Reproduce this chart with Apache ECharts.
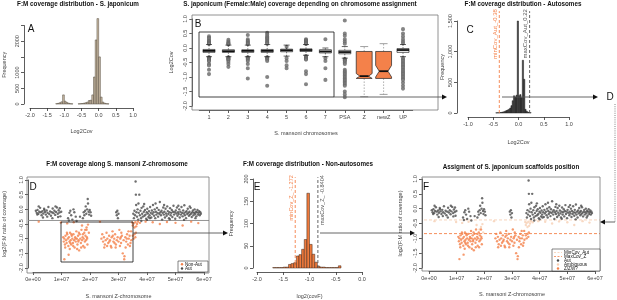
<!DOCTYPE html>
<html><head><meta charset="utf-8">
<script src="https://cdn.jsdelivr.net/npm/echarts@6/dist/echarts.min.js"></script>
<style>html,body{margin:0;padding:0;background:#fff}#c{width:617px;height:300px}</style>
</head><body><div id="c"></div>
<script>
// ---------- DATA ----------
// Panel A histogram (S. japonicum all scaffolds), bin width 0.05
const histA_starts = [-1.25,-1.2,-1.15,-1.1,-1.05,-1.0,-0.95,-0.9,-0.85,-0.8,-0.6,-0.55,-0.5,-0.45,-0.4,-0.35,-0.3,-0.25,-0.2,-0.15,-0.1,-0.05,0.0,0.05,0.1,0.15,0.2,0.25];
const histA_counts = [10,20,40,70,290,90,50,25,10,5,5,10,15,25,40,60,110,120,290,860,2040,2720,1500,220,60,25,10,5];
const histA_width = 0.05;

// Panel B boxplots
const chrCats = ['1','2','3','4','5','6','7','PSA','Z','newZ','UP'];
const chrMin = [-0.30,-0.30,-0.30,-0.30,-0.28,-0.25,-0.30,-0.35,-1.68,-1.60,-0.30];
const chrQ1  = [-0.15,-0.15,-0.15,-0.15,-0.13,-0.12,-0.17,-0.20,-1.05,-1.05,-0.15];
const chrMed = [-0.10,-0.11,-0.10,-0.10,-0.08,-0.07,-0.12,-0.14,-0.97,-0.80,-0.07];
const chrQ3  = [-0.05,-0.06,-0.06,-0.05,-0.04,-0.03,-0.06,-0.08,-0.12,-0.12,-0.02];
const chrMax = [0.12,0.10,0.10,0.12,0.10,0.12,0.00,0.05,0.05,0.15,0.12];
const chrNotchLo = [null,null,null,null,null,null,null,null,-1.05,-1.00,null];
const chrNotchHi = [null,null,null,null,null,null,null,null,-0.88,-0.60,null];
const chrOutliers = [
  [0.40,0.35,0.30,0.25,0.22,0.20,0.18,0.16,0.14,-0.32,-0.34,-0.36,-0.38,-0.40,-0.42,-0.46,-0.55,-0.60,-0.75,-0.90],
  [0.28,0.22,0.18,0.16,0.14,0.12,-0.32,-0.34,-0.36,-0.38,-0.40,-0.42,-0.48,-0.55,-0.65],
  [0.45,0.30,0.25,0.22,0.18,0.16,0.13,-0.32,-0.34,-0.36,-0.40,-0.45,-0.55,-0.70,-1.05],
  [0.52,0.46,0.40,0.36,0.33,0.29,0.25,0.21,0.18,0.15,-0.32,-0.34,-0.37,-0.40,-0.45,-1.00,-1.30],
  [0.04,-0.35,-0.45,-0.60,-0.70],
  [0.30,0.27,0.25,0.22,0.20,0.18,0.16,0.14,-0.28,-0.30,-0.33,-0.35,-0.38,-0.40,-0.80,-0.90,-1.25],
  [0.30,-0.35,-0.45,-0.70,-1.10],
  [0.95,0.50,0.42,0.30,0.22,0.15,-0.38,-0.40,-0.42,-0.45,-0.50,-0.55,-0.75,-0.80,-0.85,-0.90,-0.95,-1.00,-1.05,-1.10,-1.15,-1.20,-1.25,-1.30,-1.50,-1.60,-1.70],
  [],
  [],
  [0.65,0.50,0.40,0.30,0.22,0.16,-0.35,-0.40,-0.45,-0.50,-0.55,-0.60,-0.65,-0.70,-0.75,-0.80,-0.85,-0.90,-0.95,-1.00,-1.05,-1.10,-1.20,-1.30,-1.40]
];
const highlightCats = ['Z','newZ'];

// Panel C histogram (autosomes), bin width 0.025
const histC_starts = [-0.45,-0.425,-0.4,-0.375,-0.35,-0.325,-0.3,-0.275,-0.25,-0.225,-0.2,-0.175,-0.15,-0.125,-0.1,-0.075,-0.05,-0.025,0.0,0.025,0.05,0.075,0.1,0.125,0.15,0.175,0.2,0.225];
const histC_counts = [3,5,5,8,10,15,20,30,40,50,60,80,120,200,280,260,290,1500,280,300,250,860,550,60,30,15,8,5];
const histC_width = 0.025;
const minCovAut = -0.38;
const maxCovAut = 0.22;

// Panels D & F: position on S. mansoni Z (Mb) vs log2(F:M coverage)
const autPts = [
[1.0,-0.05],[1.3,-0.12],[1.6,-0.02],[1.9,-0.15],[2.2,-0.08],[2.5,0.05],[2.8,-0.1],[3.0,-0.2],[3.3,-0.06],[3.6,-0.14],[3.9,0.02],[4.2,-0.09],[4.5,-0.18],[4.8,-0.04],[5.1,-0.12],[5.4,0.08],[5.7,-0.16],[6.0,-0.07],[6.3,-0.22],[6.6,-0.1],[6.9,0.03],[7.2,-0.13],[7.5,-0.05],[7.8,-0.19],[8.1,-0.09],[8.4,0.06],[8.7,-0.15],[9.0,-0.03],[9.3,-0.11],[9.6,-0.24],[9.9,-0.08],[2.0,0.1],[3.5,-0.28],[5.0,-0.25],[6.8,-0.3],[7.9,0.1],[8.8,-0.26],[4.0,-0.02],[1.5,-0.18],[9.4,0.04],
[12.3,-0.3],[12.8,-0.12],[13.1,-0.05],[13.4,-0.2],[13.8,-0.35],[14.2,0.0],[14.5,-0.1],[15.0,-0.25],[15.3,-0.4],[12.6,-0.38],
[17.8,-0.1],[18.0,-0.2],[18.3,-0.05],[18.5,0.1],[18.7,-0.15],[19.0,0.0],[19.2,0.35],[19.3,0.2],[19.5,-0.08],[19.7,-0.18],[19.9,-0.02],[20.2,-0.1],[20.4,-0.22],[17.5,-0.3],[16.5,-0.25],
[29.2,-0.1],[29.4,-0.2],[29.6,-0.05],[29.8,-0.3],[30.0,-0.15],
[35.2,-0.15],[35.4,-0.3],[35.6,-0.05],[35.8,-0.2],[36.0,0.95],[36.1,0.5],[36.3,-0.1],[36.5,-0.25],[36.7,0.0],[36.9,-0.35],[37.1,-0.12],[37.3,0.5],[37.5,-0.2],[37.7,-0.05],[37.9,-0.3],[38.1,0.05],[38.3,-0.15],[38.5,-0.25],[38.7,0.1],[38.9,-0.08],[39.1,-0.22],[39.3,-0.02],[39.5,-0.18],[39.7,-0.32],[39.9,-0.1],[40.1,0.02],[40.3,-0.14],[40.5,-0.26],[40.7,-0.06],[40.9,-0.2],[41.1,0.08],[41.3,-0.12],[41.5,-0.28],[41.7,-0.04],[41.9,-0.16],[42.1,0.15],[42.3,-0.1],[42.5,-0.22],[42.7,0.0],[42.9,-0.3],[43.1,-0.08],[43.3,-0.18],[43.5,0.05],[43.7,-0.12],[43.9,-0.25],[44.1,-0.02],[44.3,-0.15],[44.5,0.25],[44.7,-0.1],[44.9,-0.2],[45.1,-0.05],[45.3,-0.35],[45.5,-0.12],[45.7,0.06],[45.9,-0.18],[46.1,-0.08],[46.3,-0.28],[46.5,0.02],[46.7,-0.14],[46.9,-0.22],[47.1,0.1],[47.3,-0.06],[47.5,-0.16],[47.7,-0.3],[47.9,-0.1],[48.1,0.04],[48.3,-0.2],[48.5,-0.12],[48.7,-0.02],[48.9,-0.26],[49.1,-0.08],[49.3,0.12],[49.5,-0.18],[49.7,-0.1],[49.9,-0.32],[50.1,-0.04],[50.3,-0.14],[50.5,0.06],[50.7,-0.22],[50.9,-0.1],[51.1,-0.16],[51.3,0.0],[51.5,-0.28],[51.7,-0.08],[51.9,-0.18],[52.1,0.08],[52.3,-0.12],[52.5,-0.24],[52.7,-0.04],[52.9,-0.14],[53.1,0.14],[53.3,-0.2],[53.5,-0.1],[53.7,-0.3],[53.9,-0.06],[54.1,-0.16],[54.3,0.02],[54.5,-0.12],[54.7,-0.22],[54.9,-0.08],[55.1,-0.18],[55.3,0.05],[55.5,-0.14],[55.7,-0.26],[55.9,-0.1],[56.1,-0.04],[56.3,-0.2],[56.5,-0.12],[56.7,0.0],[56.9,-0.16],[57.1,-0.08],[57.3,-0.24],[57.5,-0.1],[57.7,-0.02],[57.9,-0.18],[58.1,-0.12],[58.3,-0.06],[58.5,-0.2],[58.7,-0.1],[58.9,-0.15],[36.2,0.15],[37.0,0.2],[38.0,-0.4],[39.0,0.18],[40.0,-0.36],[41.0,-0.3],[43.0,0.2],[46.0,0.15],[48.0,-0.34],[51.0,0.12],[53.0,-0.36],[55.0,0.1],[57.0,-0.3]
];
const zPts = [
[10.6,-0.95],[10.8,-1.1],[11.0,-1.7],[11.0,-1.0],[11.2,-1.2],[11.4,-0.9],[11.6,-1.05],[11.8,-1.15],[12.0,-0.85],[12.2,-1.0],[12.4,-1.25],[12.5,-1.55],[12.6,-0.95],[12.8,-1.1],[13.0,-0.8],[13.2,-1.05],[13.4,-1.2],[13.6,-0.9],[13.8,-1.0],[14.0,-1.15],[14.2,-0.85],[14.4,-1.05],[14.6,-1.3],[14.8,-0.95],[15.0,-1.1],[15.2,-0.75],[15.4,-1.0],[15.6,-1.2],[15.8,-0.9],[16.0,-1.05],[16.2,-1.4],[16.4,-0.85],[16.6,-1.0],[16.8,-1.15],[17.0,-0.7],[17.2,-1.05],[17.4,-0.95],[17.6,-1.25],[17.8,-1.0],[18.0,-0.8],[18.2,-1.1],[18.4,-0.9],[18.6,-1.05],[18.8,-0.7],[19.0,-1.0],[19.1,-1.2],[11.3,-1.3],[11.9,-0.8],[12.9,-1.35],[13.5,-0.85],[14.1,-1.25],[14.9,-1.0],[15.5,-1.35],[16.1,-0.8],[16.9,-1.3],[17.5,-0.85],[18.1,-1.3],[18.9,-0.95],[13.1,-1.15],[15.9,-1.1],
[24.0,-1.0],[24.3,-0.85],[24.6,-1.1],[24.9,-0.95],[25.2,-1.2],[25.5,-1.05],[25.8,-0.8],[26.1,-1.0],[26.4,-1.15],[26.7,-0.9],[27.0,-1.05],[27.3,-1.25],[27.6,-0.95],[27.9,-0.75],[28.2,-1.1],[28.5,-1.0],[28.8,-0.85],[29.1,-1.2],[29.4,-1.05],[29.7,-0.95],[30.0,-1.1],[30.3,-0.7],[30.6,-1.0],[30.9,-1.15],[31.2,-0.9],[31.5,-1.5],[31.8,-1.05],[32.0,-1.7],[32.1,-1.6],[32.4,-0.95],[32.7,-1.1],[33.0,-0.85],[33.3,-1.2],[33.6,-1.0],[33.9,-0.9],[34.2,-1.15],[34.5,-1.05],[25.0,-1.3],[26.0,-1.25],[27.5,-1.3],[28.0,-0.9],[29.0,-1.3],[30.5,-1.25],[31.0,-0.8],[32.5,-1.3],[33.5,-0.75],[34.0,-1.25],[34.4,-0.75],[26.8,-1.1],[28.6,-1.15],[30.8,-0.95],[32.9,-1.0],[35.0,-0.9],[35.3,-1.0],[35.6,-0.85],[35.9,-0.95],[36.1,-0.8]
];
const ambPts = [
[2.0,-0.42],[9.8,-0.45],[12.0,-0.48],[14.3,-0.44],[17.2,-0.55],[18.8,-0.62],[19.3,-0.52],[23.5,-0.42],[34.8,-0.45],[35.0,-0.55],[35.3,-0.48],[35.6,-0.62],[35.9,-0.44],[36.2,-0.58],[36.5,-0.5],[36.8,-0.42],[37.5,-0.46],[39.5,-0.42],[42.0,-0.44],[44.5,-0.5],[47.0,-0.43],[50.0,-0.46],[52.5,-0.55],[55.5,-0.42],[58.0,-0.47],[18.3,-0.7],[19.6,-0.8]
];

// Panel E histogram (non-autosomes), bin width 0.05
const histE_starts = [-1.7,-1.65,-1.6,-1.55,-1.5,-1.45,-1.4,-1.35,-1.3,-1.25,-1.2,-1.15,-1.1,-1.05,-1.0,-0.95,-0.9,-0.85,-0.8,-0.75,-0.7,-0.65,-0.6,-0.55,-0.5,-0.45];
const histE_counts = [1,1,1,1,2,2,8,10,12,27,30,42,64,168,53,31,13,4,2,2,1,1,1,1,1,5];
const histE_width = 0.05;
const minCovZ = -1.272;
const maxCovZ = -0.8404;

// ---------- COLORS / HELPERS ----------
const FONT = '"Liberation Sans", Arial, sans-serif';
const ORANGE = '#f4814a', GREY = '#4a4a4a', AMB = '#f6cfb4', TAN = '#cdbda6', DGREY = '#555';

function mkAxis(extra, label){
  return Object.assign({
    type:'value', splitLine:{show:false}, nameLocation:'middle',
    axisLine:{show:true, onZero:false, lineStyle:{color:'#333', width:0.8}},
    axisTick:{show:true, length:3, lineStyle:{color:'#333', width:0.8}},
    axisLabel:Object.assign({fontSize:5.5, color:'#444', fontFamily:FONT, margin:4, showMinLabel:true, showMaxLabel:true}, label||{}),
    nameTextStyle:{fontSize:5.5, color:'#444', fontFamily:FONT}
  }, extra);
}
const fmt1 = v => v.toFixed(1);
const fmtSci = v => v === 0 ? '0e+00' : (v/10) + 'e+07';

function histItem(fill, stroke){
  return function(params, api){
    const p0 = api.coord([api.value(0), api.value(2)]);
    const p1 = api.coord([api.value(1), 0]);
    return {type:'rect', shape:{x:p0[0], y:p0[1], width:p1[0]-p0[0], height:p1[1]-p0[1]},
      style:{fill:fill, stroke:stroke, lineWidth:0.5}};
  };
}
function histData(starts, counts, w){ return starts.map((s,i)=>[s, s+w, counts[i]]); }

function boxItem(halfFrac, fill, whiskerColor){
  return function(params, api){
    const i = api.value(0);
    const band = api.size([1,0])[0];
    const hw = band*halfFrac;
    const cx = api.coord([i,0])[0];
    const y = v => api.coord([i,v])[1];
    const yMin=y(api.value(1)), yQ1=y(api.value(2)), yMd=y(api.value(3)), yQ3=y(api.value(4)), yMax=y(api.value(5));
    const nlv = api.value(6), nhv = api.value(7);
    const L = cx-hw, R = cx+hw;
    let pts, medHw = hw;
    if (nlv === null || nlv === undefined || isNaN(nlv)) {
      pts = [[L,yQ3],[R,yQ3],[R,yQ1],[L,yQ1]];
    } else {
      const yNl = y(nlv), yNh = y(nhv), ins = hw*0.45;
      medHw = hw - ins;
      pts = [[L,yQ3],[R,yQ3],[R,yNh],[R-ins,yMd],[R,yNl],[R,yQ1],[L,yQ1],[L,yNl],[L+ins,yMd],[L,yNh]];
    }
    const cap = hw*0.5;
    return {type:'group', children:[
      {type:'line', shape:{x1:cx,y1:yQ3,x2:cx,y2:yMax}, style:{stroke:whiskerColor, lineWidth:0.6, lineDash:[1.5,1.5]}},
      {type:'line', shape:{x1:cx,y1:yQ1,x2:cx,y2:yMin}, style:{stroke:whiskerColor, lineWidth:0.6, lineDash:[1.5,1.5]}},
      {type:'line', shape:{x1:cx-cap,y1:yMax,x2:cx+cap,y2:yMax}, style:{stroke:whiskerColor, lineWidth:0.7}},
      {type:'line', shape:{x1:cx-cap,y1:yMin,x2:cx+cap,y2:yMin}, style:{stroke:whiskerColor, lineWidth:0.7}},
      {type:'polygon', shape:{points:pts}, style:{fill:fill, stroke:'#222', lineWidth:0.7}},
      {type:'line', shape:{x1:cx-medHw,y1:yMd,x2:cx+medHw,y2:yMd}, style:{stroke:'#111', lineWidth:1.8}}
    ]};
  };
}
const boxRows = chrCats.map((c,i)=>[i, chrMin[i], chrQ1[i], chrMed[i], chrQ3[i], chrMax[i],
  chrNotchLo[i]===null?NaN:chrNotchLo[i], chrNotchHi[i]===null?NaN:chrNotchHi[i]]);
const boxNarrow = boxRows.filter(r=>highlightCats.indexOf(chrCats[r[0]])<0);
const boxWide = boxRows.filter(r=>highlightCats.indexOf(chrCats[r[0]])>=0);
const outlierPts = [];
chrOutliers.forEach((arr,i)=>arr.forEach(v=>outlierPts.push([i,v])));

// vertical reference lines with rotated labels (histograms)
function vRef(styles, labels, yTop, fontSize){
  return function(params, api){
    const st = styles[params.dataIndex];
    const v = api.value(0);
    const pb = api.coord([v, 0]), pt = api.coord([v, yTop]);
    return {type:'group', children:[
      {type:'line', shape:{x1:pb[0],y1:pb[1],x2:pt[0],y2:pt[1]}, style:{stroke:st.color, lineWidth:0.9, lineDash:[3,2]}},
      {type:'text', x: pt[0] + (st.side==='left' ? -1.2 : 1.2), y: pt[1] - 2, rotation: Math.PI/2,
        style:{text:labels[params.dataIndex], fill:st.color, font:fontSize+'px '+FONT, textAlign:'right',
          textVerticalAlign: st.side==='left' ? 'bottom' : 'top'}}
    ]};
  };
}
// horizontal reference lines spanning the plot frame (scatter panels)
function hRef(styles){
  return function(params, api){
    const st = styles[params.dataIndex];
    const cs = params.coordSys;
    const yv = api.coord([0, api.value(0)])[1];
    return {type:'line', shape:{x1:cs.x-5, y1:yv, x2:cs.x+cs.width+5, y2:yv},
      style:{stroke:st.color, lineWidth:0.9, lineDash:st.dash?[3,2]:null}};
  };
}

function arrow(x1,y,x2,color){
  const d = x2>x1?1:-1;
  return [
    {type:'line', shape:{x1:x1,y1:y,x2:x2-d*4,y2:y}, style:{stroke:color, lineWidth:0.9}, z:50},
    {type:'polygon', shape:{points:[[x2,y],[x2-d*5,y-2.6],[x2-d*5,y+2.6]]}, style:{fill:'#111'}, z:50}
  ];
}
function txt(x,y,t,size,opts){
  return {type:'text', x:x, y:y, z:60, style:Object.assign({text:t, font:(opts&&opts.weight||'normal')+' '+size+'px '+FONT,
    fill:'#111', textAlign:'center', textVerticalAlign:'middle'}, opts&&opts.style||{})};
}
function frame(x,y,w,h,color){
  return {type:'rect', shape:{x:x,y:y,width:w,height:h}, style:{fill:'none', stroke:color, lineWidth:0.8}, z:40};
}

// ---------- OPTION ----------
const grids = [
  {left:29, top:25.5, width:104, height:78.5},     // A
  {left:199.3, top:19, width:213.4, height:87},    // B
  {left:468, top:21, width:101, height:92},        // C
  {left:32, top:180, width:172, height:89},        // D
  {left:257, top:179, width:105, height:90},       // E
  {left:429, top:179, width:166, height:89}        // F
];

const xAxes = [
  mkAxis({gridIndex:0, min:-2, max:1, interval:0.5, offset:4, name:'Log2Cov', nameGap:20}, {formatter:fmt1}),
  Object.assign(mkAxis({gridIndex:1, type:'category', data:chrCats, offset:4, name:'S. mansoni chromosomes', nameGap:20}, {interval:0}),
      {axisTick:{show:true, length:3, alignWithLabel:true, lineStyle:{color:'#333', width:0.8}}}),
  mkAxis({gridIndex:2, min:-1, max:1, interval:0.5, offset:4, name:'Log2Cov', nameGap:22}, {formatter:fmt1}),
  mkAxis({gridIndex:3, min:0, max:60, interval:10, offset:4, name:'S. mansoni Z-chromosome', nameGap:21}, {formatter:fmtSci}),
  mkAxis({gridIndex:4, min:-2, max:0, interval:0.5, offset:4, name:'log2(covF)', nameGap:21}, {formatter:fmt1}),
  mkAxis({gridIndex:5, min:0, max:60, interval:10, offset:3, name:'S. mansoni Z-chromosome', nameGap:20}, {formatter:fmtSci})
];
const yAxes = [
  mkAxis({gridIndex:0, min:0, max:2500, interval:500, offset:6, name:'Frequency', nameGap:17}, {rotate:90, formatter:v=>(v===1500||v===2500)?'':String(v)}),
  mkAxis({gridIndex:1, min:-2, max:1, interval:0.5, offset:7, name:'Log2Cov', nameGap:18}, {rotate:90, formatter:fmt1}),
  mkAxis({gridIndex:2, min:0, max:1500, interval:500, offset:11, name:'Frequency', nameGap:12}, {rotate:90}),
  mkAxis({gridIndex:3, min:-2, max:1, interval:0.5, offset:5, name:'log2(F:M ratio of coverage)', nameGap:21}, {rotate:90, formatter:fmt1}),
  mkAxis({gridIndex:4, min:0, max:200, interval:50, offset:4, name:'Frequency', nameGap:19}, {rotate:90}),
  mkAxis({gridIndex:5, min:-2, max:1, interval:0.5, offset:7, name:'log2(F:M ratio of coverage)', nameGap:19}, {rotate:90, formatter:fmt1})
];

const series = [
  {type:'custom', xAxisIndex:0, yAxisIndex:0, renderItem:histItem(TAN,'#4d4438'), data:histData(histA_starts,histA_counts,histA_width), encode:{x:[0,1], y:2}},
  {type:'scatter', xAxisIndex:1, yAxisIndex:1, data:outlierPts, symbol:'emptyCircle', symbolSize:2.1,
    itemStyle:{color:'#666', borderWidth:0.45}, z:2},
  {type:'custom', xAxisIndex:1, yAxisIndex:1, renderItem:boxItem(0.31,'#fff','#222'), data:boxNarrow, encode:{x:0, y:[1,5]}, z:3},
  {type:'custom', xAxisIndex:1, yAxisIndex:1, renderItem:boxItem(0.41,ORANGE,'#777'), data:boxWide, encode:{x:0, y:[1,5]}, z:3},
  {type:'custom', xAxisIndex:2, yAxisIndex:2, renderItem:histItem('#3b3b3b','#222'), data:histData(histC_starts,histC_counts,histC_width), encode:{x:[0,1], y:2}},
  {type:'custom', xAxisIndex:2, yAxisIndex:2, clip:false, z:5,
    renderItem:vRef([{color:ORANGE, side:'left'},{color:DGREY, side:'left'}], ['minCov_Aut_'+minCovAut, 'maxCov_Aut_'+maxCovAut], 1660, 6),
    data:[[minCovAut,0],[maxCovAut,0]], encode:{x:0, y:1}},
  {type:'custom', xAxisIndex:3, yAxisIndex:3, clip:false, z:1, renderItem:hRef([{color:'#888', dash:false}]),
    data:[[minCovAut]], encode:{y:0}},
  {type:'scatter', name:'Aut', xAxisIndex:3, yAxisIndex:3, data:autPts, symbolSize:2.4, itemStyle:{color:GREY}, z:3},
  {type:'scatter', name:'Non-Aut', xAxisIndex:3, yAxisIndex:3, data:zPts.concat(ambPts), symbolSize:2.4, itemStyle:{color:ORANGE}, z:3},
  {type:'custom', xAxisIndex:4, yAxisIndex:4, renderItem:histItem('#ef7a3c','#3a2418'), data:histData(histE_starts,histE_counts,histE_width), encode:{x:[0,1], y:2}},
  {type:'custom', xAxisIndex:4, yAxisIndex:4, clip:false, z:5,
    renderItem:vRef([{color:ORANGE, side:'left'},{color:DGREY, side:'right'}], ['minCov_Z_ '+minCovZ, 'maxCov_Z_ '+maxCovZ], 204, 5.5),
    data:[[minCovZ,0],[maxCovZ,0]], encode:{x:0, y:1}},
  {type:'custom', xAxisIndex:5, yAxisIndex:5, clip:false, z:1, renderItem:hRef([{color:AMB, dash:true},{color:ORANGE, dash:true}]),
    data:[[minCovAut],[maxCovZ]], encode:{y:0}},
  {type:'scatter', name:'Ambiguous', xAxisIndex:5, yAxisIndex:5, data:ambPts, symbolSize:2.4, itemStyle:{color:AMB}, z:3},
  {type:'scatter', name:'Aut', xAxisIndex:5, yAxisIndex:5, data:autPts, symbolSize:2.4, itemStyle:{color:GREY}, z:3},
  {type:'scatter', name:'Z', xAxisIndex:5, yAxisIndex:5, data:zPts, symbolSize:2.4, itemStyle:{color:ORANGE}, z:3}
];

const graphics = [].concat(
  [txt(78,4.5,'F:M coverage distribution - S. japonicum',6.3,{weight:'bold'}),
   txt(300,4.5,'S. japonicum (Female:Male) coverage depending on chromosome assignment',6.3,{weight:'bold'}),
   txt(523,4.5,'F:M coverage distribution - Autosomes',6.3,{weight:'bold'}),
   txt(117,164,'F:M coverage along S. mansoni Z-chromosome',6.3,{weight:'bold'}),
   txt(308,164,'F:M coverage distribution - Non-autosomes',6.3,{weight:'bold'}),
   txt(511,167,'Assigment of S. japonicum scaffolds position',6.3,{weight:'bold'})],
  [txt(31,29,'A',10), txt(198,24,'B',10), txt(470,30,'C',10), txt(33,187,'D',10), txt(257,187,'E',10), txt(426,187,'F',10), txt(610,97,'D',10)],
  [frame(192,15,246,95,'#777'), frame(199,32,135,65,'#111'),
   frame(27,177,182,96,'#777'), frame(61,222,72,40,'#111'), frame(422,177,178,94,'#777')],
  arrow(334,97,447,'#555'), arrow(502,97,598,'#555'),
  arrow(133,233,228,'#555'), arrow(320,233,415,'#555'),
  [{type:'line', shape:{x1:615,y1:104,x2:615,y2:222}, style:{stroke:'#666', lineWidth:0.8, lineDash:[1,1.2]}, z:50}],
  arrow(615,222,600,'#555'),
  [{type:'rect', shape:{x:178,y:261,width:30,height:11}, style:{fill:'#fff', stroke:'#333', lineWidth:0.6}, z:55},
   {type:'circle', shape:{cx:182,cy:264.3,r:1.2}, style:{fill:ORANGE}, z:56},
   {type:'circle', shape:{cx:182,cy:268.5,r:1.2}, style:{fill:GREY}, z:56},
   txt(185,264.3,'Non-Aut',4.6,{style:{textAlign:'left'}}),
   txt(185,268.5,'Aut',4.6,{style:{textAlign:'left'}})],
  [{type:'rect', shape:{x:552,y:249,width:48,height:22}, style:{fill:'#fff', stroke:'#333', lineWidth:0.6}, z:55},
   {type:'line', shape:{x1:554,y1:252.5,x2:562,y2:252.5}, style:{stroke:AMB, lineWidth:0.8, lineDash:[2,1.5]}, z:56},
   {type:'line', shape:{x1:554,y1:256.5,x2:562,y2:256.5}, style:{stroke:ORANGE, lineWidth:0.8, lineDash:[2,1.5]}, z:56},
   {type:'circle', shape:{cx:558,cy:260.5,r:1.2}, style:{fill:GREY}, z:56},
   {type:'circle', shape:{cx:558,cy:264.5,r:1.2}, style:{fill:AMB}, z:56},
   {type:'circle', shape:{cx:558,cy:268.5,r:1.2}, style:{fill:ORANGE}, z:56},
   txt(564,252.5,'MinCov_Aut',4.6,{style:{textAlign:'left'}}),
   txt(564,256.5,'MaxCov_Z',4.6,{style:{textAlign:'left'}}),
   txt(564,260.5,'Aut',4.6,{style:{textAlign:'left'}}),
   txt(564,264.5,'Ambiguous',4.6,{style:{textAlign:'left'}}),
   txt(564,268.5,'Z/ZW?',4.6,{style:{textAlign:'left'}})]
);

const chart = echarts.init(document.getElementById('c'), null, {renderer:'canvas', width:617, height:300});
chart.setOption({
  animation:false, backgroundColor:'#fff',
  textStyle:{fontFamily:FONT},
  grid:grids, xAxis:xAxes, yAxis:yAxes, series:series, graphic:graphics
});
</script></body></html>
